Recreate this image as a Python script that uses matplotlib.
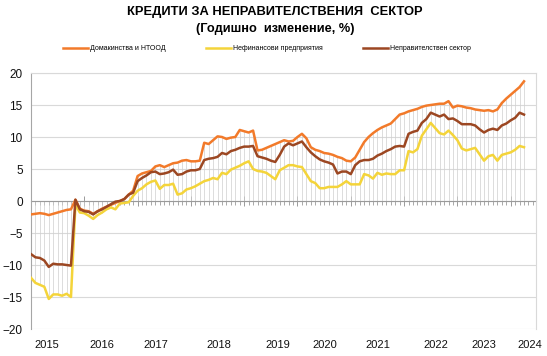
"""Loans to the non-government sector, annual growth (%), monthly."""

import matplotlib

matplotlib.use("Agg")

import matplotlib.pyplot as plt
import matplotlib.transforms as mtransforms
import numpy as np
from matplotlib.lines import Line2D
from matplotlib.ticker import MultipleLocator

# --- data (annual change, %), monthly from Jan 2015 ---
households = [
    -2.1, -2.0, -1.9, -2.0, -2.2, -2.0, -1.8, -1.6, -1.4, -1.3,
    0.2, -1.2, -1.5, -1.6, -2.0, -1.6, -1.2, -0.9, -0.6, -0.3,
    0.0, 0.3, 1.0, 1.6, 3.9, 4.3, 4.5, 4.7, 5.4, 5.6,
    5.3, 5.6, 5.9, 6.0, 6.3, 6.4, 6.2, 6.2, 6.3, 9.1,
    8.9, 9.5, 10.1, 10.0, 9.7, 9.9, 10.0, 11.1, 10.9, 10.7,
    11.0, 7.9, 8.0, 8.3, 8.6, 8.9, 9.2, 9.5, 9.3, 9.4,
    10.0, 10.5, 9.8, 8.4, 8.0, 7.8, 7.5, 7.4, 7.2, 6.9,
    6.7, 6.3, 6.2, 6.8, 8.0, 9.2, 10.0, 10.6, 11.1, 11.5,
    11.8, 12.1, 12.8, 13.5, 13.7, 14.0, 14.2, 14.4, 14.7, 14.9,
    15.0, 15.1, 15.2, 15.2, 15.6, 14.6, 14.9, 14.8, 14.6, 14.5,
    14.3, 14.2, 14.1, 14.2, 14.0, 14.3, 15.3, 16.0, 16.6, 17.2,
    17.8, 18.7,
]
corporates = [
    -12.0, -12.8, -13.1, -13.4, -15.3, -14.6, -14.6, -14.8, -14.5, -15.0,
    -0.6, -1.8, -1.9, -2.3, -2.8, -2.2, -1.8, -1.3, -1.0, -1.3,
    -0.4, -0.3, -0.2, 0.8, 1.6, 2.0, 2.6, 3.0, 3.2, 1.9,
    2.5, 2.5, 2.7, 1.0, 1.2, 1.8, 2.0, 2.3, 2.7, 3.1,
    3.3, 3.6, 3.4, 4.4, 4.2, 4.9, 5.2, 5.5, 5.9, 6.2,
    5.0, 4.7, 4.6, 4.4, 3.9, 3.4, 4.8, 5.2, 5.6, 5.6,
    5.4, 5.3, 4.2, 3.1, 2.8, 2.0, 2.0, 2.2, 2.2, 2.2,
    2.6, 3.1, 2.6, 2.6, 2.6, 4.2, 4.0, 3.5, 4.4, 4.1,
    4.3, 4.2, 4.2, 4.8, 4.8, 7.8, 7.6, 8.1, 10.2, 11.2,
    12.2, 11.4, 10.6, 10.4, 11.0, 10.3, 9.5, 8.2, 7.9, 8.1,
    8.3, 7.3, 6.3, 7.0, 7.2, 6.3, 7.2, 7.4, 7.6, 8.0,
    8.6, 8.4,
]
non_gov = [
    -8.3, -8.8, -8.9, -9.3, -10.3, -9.8, -9.9, -9.9, -10.0, -10.1,
    0.2, -1.3, -1.6, -1.7, -2.1, -1.6, -1.3, -0.9, -0.5, -0.1,
    0.0, 0.3, 1.0, 1.3, 3.1, 3.6, 4.0, 4.5, 4.6, 4.2,
    4.3, 4.5, 4.9, 4.1, 4.2, 4.6, 4.8, 4.8, 5.0, 6.4,
    6.6, 6.7, 6.9, 7.5, 7.3, 7.8, 8.0, 8.3, 8.5, 8.5,
    8.6, 7.0, 6.8, 6.6, 6.3, 6.1, 7.2, 8.5, 9.0, 8.7,
    9.0, 9.3, 8.4, 7.6, 7.0, 6.5, 6.2, 6.0, 5.7, 4.3,
    4.6, 4.6, 4.2, 5.6, 6.2, 6.4, 6.4, 6.6, 7.1, 7.4,
    7.8, 8.1, 8.5, 8.6, 8.5, 10.5, 10.8, 11.0, 12.2, 12.8,
    13.8, 13.5, 13.2, 13.5, 12.8, 12.9, 12.5, 12.0, 12.0, 12.0,
    11.8, 11.2, 10.7, 11.1, 11.3, 11.1, 11.8, 12.1, 12.6, 13.0,
    13.8, 13.5,
]
series_names = ["Домакинства и НТООД", "Нефинансови предприятия", "Неправителствен сектор"]
year_labels = ["2015", "2016", "2017", "2018", "2019", "2020", "2021", "2022", "2023", "2024"]

# label anchors (in months) as they sit in the original layout
year_label_pos = [3.5, 15.9, 28.2, 42.2, 55.6, 66.2, 78.2, 91.2, 101.9, 112.2]

COLORS = ["#f27a2a", "#f4d43a", "#9c4722"]
FONT = ["Liberation Sans", "DejaVu Sans"]

plt.rcParams["font.family"] = FONT

months = np.arange(len(households))
all_series = np.vstack([households, corporates, non_gov])

fig = plt.figure(figsize=(5.47, 3.56), dpi=100)
ax = fig.add_axes([31 / 547, 1 - 329 / 356, 505 / 547, 256 / 356])

# drop lines from the series to the zero axis
top = np.maximum(all_series.max(axis=0), 0)
bottom = np.minimum(all_series.min(axis=0), 0)
ax.vlines(months, bottom, top, color="#cfcfcf", lw=0.5, zorder=1)

ax.plot(months, households, color=COLORS[0], lw=1.8, zorder=3, solid_joinstyle="round")
ax.plot(months, corporates, color=COLORS[1], lw=1.8, zorder=3, solid_joinstyle="round")
ax.plot(months, non_gov, color=COLORS[2], lw=1.8, zorder=4, solid_joinstyle="round")

ax.set_xlim(0, 113.7)
ax.set_ylim(-20, 20)
ax.yaxis.set_major_locator(MultipleLocator(5))
ax.yaxis.grid(True, color="#d9d9d9", lw=0.8, zorder=0)
ax.set_axisbelow(True)
ax.tick_params(axis="y", length=0, pad=6, labelsize=8.5, colors="#111111")

# category axis sits on the zero line
ax.spines["bottom"].set_position(("data", 0))
ax.spines["bottom"].set_color("#9a9a9a")
ax.spines["bottom"].set_zorder(2)
ax.spines["left"].set_color("#a6a6a6")
ax.spines["top"].set_color("#d9d9d9")
ax.spines["right"].set_color("#d9d9d9")
ax.xaxis.set_major_locator(MultipleLocator(12))
ax.xaxis.set_minor_locator(MultipleLocator(1))
ax.tick_params(axis="x", which="major", direction="inout", length=7, width=0.7,
               color="#9a9a9a", labelbottom=False)
ax.tick_params(axis="x", which="minor", direction="out", length=3, width=0.6,
               color="#9a9a9a")

trans = mtransforms.blended_transform_factory(ax.transData, fig.transFigure)
for pos, lab in zip(year_label_pos, year_labels):
    ax.text(pos, 1 - 345 / 356, lab, transform=trans, ha="center", va="center",
            fontsize=8, color="#111111")

fig.text(0.503, 1 - 12 / 356, "КРЕДИТИ ЗА НЕПРАВИТЕЛСТВЕНИЯ  СЕКТОР", ha="center",
         va="center", fontsize=9.3, fontweight="bold")
fig.text(0.503, 1 - 29 / 356, "(Годишно  изменение, %)", ha="center", va="center",
         fontsize=9.2, fontweight="bold")

handles = [Line2D([], [], color=c, lw=1.8) for c in COLORS]
fig.legend(handles, series_names, loc="center", bbox_to_anchor=(0.488, 1 - 49 / 356),
           ncol=3, frameon=False, fontsize=5, handlelength=3.6, handletextpad=0.3,
           columnspacing=5.8)

fig.savefig("out.png", dpi=100)
plt.close(fig)
